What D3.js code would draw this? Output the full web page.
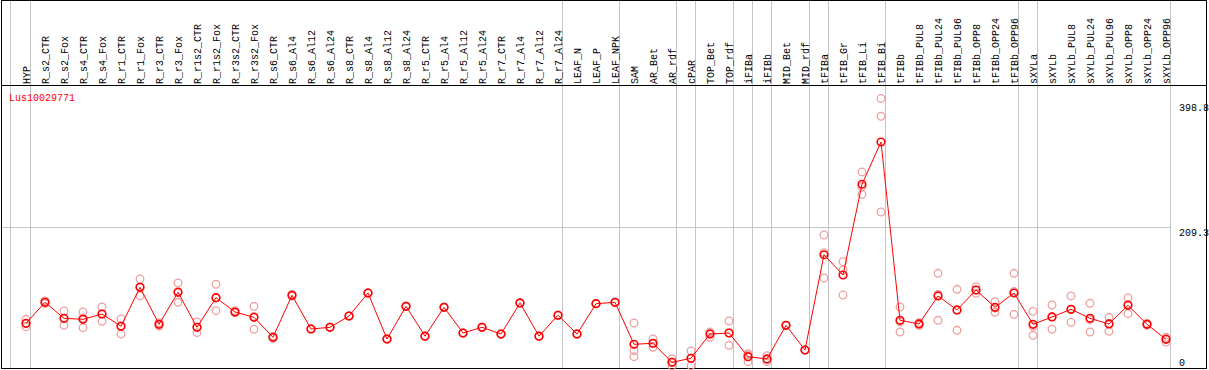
<!DOCTYPE html>
<html>
<head>
<meta charset="utf-8">
<script src="https://cdn.jsdelivr.net/npm/d3@7"></script>
<style>
html,body{margin:0;padding:0;background:#fff;}
svg{display:block;}
text{font-family:"Liberation Mono","DejaVu Sans Mono",monospace;font-size:10px;}
</style>
</head>
<body>
<svg id="chart" width="1209" height="370"></svg>
<script>
const categories = ["HYP","R_s2_CTR","R_s2_Fox","R_s4_CTR","R_s4_Fox","R_r1_CTR","R_r1_Fox","R_r3_CTR","R_r3_Fox","R_r1s2_CTR","R_r1s2_Fox","R_r3s2_CTR","R_r3s2_Fox","R_s6_CTR","R_s6_Al4","R_s6_Al12","R_s6_Al24","R_s8_CTR","R_s8_Al4","R_s8_Al12","R_s8_Al24","R_r5_CTR","R_r5_Al4","R_r5_Al12","R_r5_Al24","R_r7_CTR","R_r7_Al4","R_r7_Al12","R_r7_Al24","LEAF_N","LEAF_P","LEAF_NPK","SAM","AR_Bet","AR_rdf","cPAR","TOP_Bet","TOP_rdf","iFIBa","iFIBb","MID_Bet","MID_rdf","tFIBa","tFIB_Gr","tFIB_Li","tFIB_Bi","tFIBb","tFIBb_PUL8","tFIBb_PUL24","tFIBb_PUL96","tFIBb_OPP8","tFIBb_OPP24","tFIBb_OPP96","sXYLa","sXYLb","sXYLb_PUL8","sXYLb_PUL24","sXYLb_PUL96","sXYLb_OPP8","sXYLb_OPP24","sXYLb_OPP96"];

const meanValues = [68.0,98.9,75.3,73.9,81.7,63.6,121.0,66.5,113.6,62.1,105.7,84.6,76.8,47.4,109.2,59.6,62.1,78.7,112.6,44.9,93.0,49.1,91.5,53.7,62.1,52.2,97.9,49.1,79.8,52.2,96.8,98.9,37.1,38.6,10.6,16.5,52.2,53.7,18.8,15.5,65.0,28.7,168.9,139.1,272.6,334.8,72.4,67.0,108.2,87.6,117.0,91.5,112.6,66.5,77.3,88.6,75.3,67.0,94.5,66.5,44.4];

const rep1 = [73.9,97.0,86.1,84.6,92.0,74.3,133.2,64.0,127.3,69.9,125.4,86.5,93.0,46.0,108.0,59.6,62.1,78.7,112.6,44.9,93.0,49.1,91.5,53.7,62.1,52.2,97.9,49.1,79.8,52.2,96.8,98.9,68.4,44.9,15.9,27.2,47.4,71.4,23.3,20.3,65.0,28.7,197.9,158.6,290.7,398.8,92.0,65.0,141.6,118.0,121.9,99.8,141.6,85.6,94.9,108.2,97.4,76.8,105.2,65.0,47.4];
const rep2 = [63.0,99.0,65.0,61.5,70.9,52.2,108.2,66.5,98.9,54.2,86.5,84.0,59.2,47.4,109.2,59.6,62.1,78.7,112.6,44.9,93.0,49.1,91.5,53.7,62.1,52.2,97.9,49.1,79.8,52.2,96.8,98.9,27.7,32.7,5.2,5.6,55.2,35.6,11.5,11.5,65.0,28.7,171.9,146.4,257.8,372.6,55.2,67.0,72.4,57.7,112.1,84.2,81.2,50.3,59.2,69.5,55.2,56.2,82.1,67.0,40.5];
const rep3 = [67.1,101.0,74.8,75.6,82.2,64.3,121.6,69.0,114.6,62.2,105.2,83.3,78.2,48.8,110.6,59.6,62.1,78.7,112.6,44.9,93.0,49.1,91.5,53.7,62.1,52.2,97.9,49.1,79.8,52.2,96.8,98.9,18.8,38.2,10.7,16.7,54.0,54.1,21.6,14.7,65.0,28.7,134.7,109.6,269.2,231.8,70.0,69.0,110.6,87.1,117.0,90.5,115.0,63.6,77.8,88.1,73.3,68.0,96.2,68.0,45.3];

const groupEnds = ["HYP","R_r7_Al24","LEAF_NPK","AR_rdf","cPAR","TOP_rdf","iFIBa","iFIBb","MID_rdf","tFIBa","tFIB_Bi","tFIBb_OPP96","sXYLa","sXYLb_OPP96"];
const tickValues = [0, 209.3, 398.8];
const tickLabels = ["0", "209.3", "398.8"];
const gridValues = [209.3];
const geneName = "Lus10029771";

const svg = d3.select("#chart");

const x = d3.scalePoint().domain(categories).range([26, 1166]);
const y = d3.scaleLinear().domain([0, 398.8]).range([369.5, 98.5]);

const grey = "#c4c4c4";
const lastLineX = Math.round(x(groupEnds[groupEnds.length - 1]) + 4) + 0.5;

// vertical group separators
const sepX = [Math.round(x(categories[0]) - 16) + 0.5].concat(groupEnds.map(c => Math.round(x(c) + 4) + 0.5));
svg.append("g").selectAll("line").data(sepX).join("line")
  .attr("x1", d => d).attr("x2", d => d)
  .attr("y1", 0).attr("y2", 369)
  .attr("stroke", grey).attr("stroke-width", 1);

// horizontal grid
svg.append("g").selectAll("line").data(gridValues).join("line")
  .attr("x1", 1).attr("x2", lastLineX)
  .attr("y1", d => Math.round(y(d)) + 0.5).attr("y2", d => Math.round(y(d)) + 0.5)
  .attr("stroke", grey).attr("stroke-width", 1);

// frame
svg.append("rect").attr("x", 1.5).attr("y", 0.5).attr("width", 1205).attr("height", 368)
  .attr("fill", "none").attr("stroke", "#000").attr("stroke-width", 1);
svg.append("line").attr("x1", 1).attr("x2", 1207).attr("y1", 85.5).attr("y2", 85.5)
  .attr("stroke", "#000").attr("stroke-width", 1);

// category labels
svg.append("g").selectAll("text").data(categories).join("text")
  .attr("transform", d => `translate(${x(d) + 4},84) rotate(-90)`)
  .attr("text-anchor", "start")
  .attr("fill", "#000")
  .text(d => d);

// y tick labels
svg.append("g").selectAll("text").data(tickValues).join("text")
  .attr("x", 1179)
  .attr("y", d => Math.max(110.5, Math.min(365.5, y(d) + 8.5)))
  .attr("fill", "#000")
  .text((d, i) => tickLabels[i]);

// gene name
svg.append("text").attr("x", 9).attr("y", 101).attr("fill", "#ff0000").text(geneName);

// replicates
const reps = [];
[rep1, rep2, rep3].forEach(arr => arr.forEach((v, i) => reps.push({c: categories[i], v})));
svg.append("g").selectAll("circle").data(reps).join("circle")
  .attr("cx", d => x(d.c)).attr("cy", d => y(d.v)).attr("r", 3.8)
  .attr("fill", "none").attr("stroke", "#f0a0a0").attr("stroke-width", 1.3);

// mean line
const means = categories.map((c, i) => ({c, v: meanValues[i]}));
svg.append("path").datum(means)
  .attr("d", d3.line().x(d => x(d.c)).y(d => y(d.v)))
  .attr("fill", "none").attr("stroke", "#ff0000").attr("stroke-width", 1);

// mean markers
svg.append("g").selectAll("circle").data(means).join("circle")
  .attr("cx", d => x(d.c)).attr("cy", d => y(d.v)).attr("r", 3.8)
  .attr("fill", "none").attr("stroke", "#ff0000").attr("stroke-width", 1.6);
</script>
</body>
</html>
